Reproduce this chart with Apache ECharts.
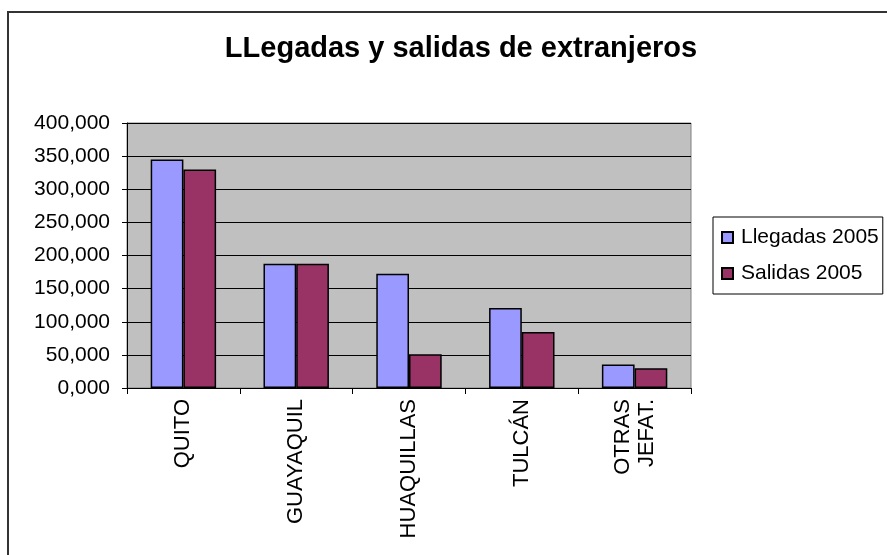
<!DOCTYPE html>
<html>
<head>
<meta charset="utf-8">
<script src="https://cdn.jsdelivr.net/npm/echarts@6/dist/echarts.min.js"></script>
<style>
  html, body { margin: 0; padding: 0; background: #fff; }
  #main { width: 887px; height: 555px; }
</style>
</head>
<body>
<div id="main"></div>
<script>
// datos
const categories = ["QUITO", "GUAYAQUIL", "HUAQUILLAS", "TULCÁN", "OTRAS\nJEFAT."];
const llegadas = [345000, 187500, 172500, 120800, 35500];
const salidas = [330000, 187500, 51000, 84500, 29700];
const seriesNames = ["Llegadas 2005", "Salidas 2005"];

const font = 'Arial, "Liberation Sans", sans-serif';
const chart = echarts.init(document.getElementById("main"));

chart.setOption({
  animation: false,
  backgroundColor: "#fff",
  title: {
    text: "LLegadas y salidas de extranjeros",
    left: 456,
    textAlign: "center",
    top: 29,
    textStyle: { fontFamily: font, fontSize: 29, fontWeight: "bold", color: "#000" },
  },
  graphic: [
    {
      type: "rect",
      shape: { x: 8, y: 12, width: 900, height: 600 },
      style: { fill: "none", stroke: "#333", lineWidth: 2 },
      silent: true,
    },
  ],
  legend: {
    orient: "vertical",
    left: 713,
    top: 217,
    padding: [10, 4, 10, 8],
    itemGap: 15,
    itemWidth: 11,
    itemHeight: 11,
    icon: "rect",
    borderColor: "#000",
    borderWidth: 1,
    textStyle: { fontFamily: font, fontSize: 21, color: "#000", padding: [0, 0, 0, 3] },
    data: seriesNames,
  },
  grid: {
    left: 127,
    right: 196,
    top: 123,
    bottom: 167,
    show: true,
    backgroundColor: "#C0C0C0",
    borderColor: "#808080",
    borderWidth: 1,
  },
  xAxis: {
    type: "category",
    data: categories,
    axisLine: { lineStyle: { color: "#000", width: 1 } },
    axisTick: { show: true, length: 6, lineStyle: { color: "#000" } },
    axisLabel: {
      rotate: 90,
      margin: 11,
      fontFamily: font,
      fontSize: 22,
      color: "#000",
      lineHeight: 24,
    },
  },
  yAxis: {
    type: "value",
    min: 0,
    max: 400000,
    interval: 50000,
    axisLine: { show: true, lineStyle: { color: "#000", width: 1 } },
    axisTick: { show: true, length: 5, lineStyle: { color: "#000" } },
    splitLine: { lineStyle: { color: "#000", width: 1 } },
    axisLabel: {
      margin: 17,
      fontFamily: font,
      fontSize: 21,
      color: "#000",
      formatter: (v) => (v / 1000).toFixed(3).replace(".", ","),
    },
  },
  series: [
    {
      name: seriesNames[0],
      type: "bar",
      data: llegadas,
      barGap: "0%",
      barCategoryGap: "42%",
      itemStyle: { color: "#9999FF", borderColor: "#000", borderWidth: 1.5 },
    },
    {
      name: seriesNames[1],
      type: "bar",
      data: salidas,
      barGap: "0%",
      barCategoryGap: "42%",
      itemStyle: { color: "#993366", borderColor: "#000", borderWidth: 1.5 },
    },
  ],
});
</script>
</body>
</html>
